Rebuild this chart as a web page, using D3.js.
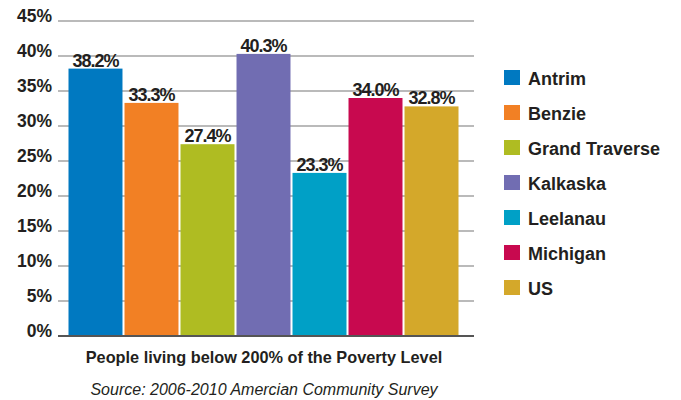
<!DOCTYPE html>
<html>
<head>
<meta charset="utf-8">
<script src="https://cdn.jsdelivr.net/npm/d3@7"></script>
<style>
  body { margin: 0; background: #fff; }
  text { font-family: "Liberation Sans", Arial, sans-serif; fill: #231f20; }
</style>
</head>
<body>
<div id="chart"></div>
<script>
// data
const categories = ["Antrim", "Benzie", "Grand Traverse", "Kalkaska", "Leelanau", "Michigan", "US"];
const values = [38.2, 33.3, 27.4, 40.3, 23.3, 34.0, 32.8];
const colors = ["#0079c1", "#f28024", "#afbc22", "#716db2", "#00a0c6", "#c8094f", "#d4a82a"];
const yTicks = [0, 5, 10, 15, 20, 25, 30, 35, 40, 45];

const svgWidth = 681;
const svgHeight = 400;

let svg = d3.select("#chart")
  .append("svg")
  .attr("width", svgWidth)
  .attr("height", svgHeight);

// scales
var xScale = d3.scaleBand()
  .domain(categories)
  .range([68.5, 458.5])
  .paddingInner(0.036)
  .paddingOuter(0);

var yScale = d3.scaleLinear()
  .domain([0, 45])
  .range([336, 21]);

// gridlines
svg.append("g")
  .selectAll("line")
  .data(yTicks.filter(d => d > 0))
  .enter().append("line")
    .attr("x1", 58)
    .attr("x2", 474)
    .attr("y1", d => yScale(d))
    .attr("y2", d => yScale(d))
    .attr("stroke", "#a3a3a3")
    .attr("stroke-width", 1.5);

// y tick labels
svg.append("g")
  .selectAll("text")
  .data(yTicks)
  .enter().append("text")
    .attr("x", 52)
    .attr("y", d => yScale(d) + 1)
    .attr("text-anchor", "end")
    .style("font-size", "17.5px")
    .style("font-weight", "bold")
    .text(d => d + "%");

// bars
svg.append("g")
  .selectAll("rect")
  .data(values)
  .enter().append("rect")
    .attr("x", (d, i) => xScale(categories[i]))
    .attr("y", d => yScale(d))
    .attr("width", xScale.bandwidth())
    .attr("height", d => yScale(0) - yScale(d))
    .attr("fill", (d, i) => colors[i]);

// baseline
svg.append("line")
  .attr("x1", 58)
  .attr("x2", 474)
  .attr("y1", yScale(0))
  .attr("y2", yScale(0))
  .attr("stroke", "#555")
  .attr("stroke-width", 2);

// value labels
svg.append("g")
  .selectAll("text")
  .data(values)
  .enter().append("text")
    .attr("x", (d, i) => xScale(categories[i]) + xScale.bandwidth() / 2)
    .attr("y", d => yScale(d) - 2)
    .attr("text-anchor", "middle")
    .style("font-size", "18px")
    .style("font-weight", "bold")
    .style("letter-spacing", "-1px")
    .text(d => d.toFixed(1) + "%");

// legend
let legend = svg.append("g")
  .selectAll("g")
  .data(categories)
  .enter().append("g")
    .attr("transform", (d, i) => "translate(504," + (70 + i * 35) + ")");

legend.append("rect")
  .attr("width", 16)
  .attr("height", 15)
  .attr("fill", (d, i) => colors[i]);

legend.append("text")
  .attr("x", 24)
  .attr("y", 15)
  .style("font-size", "18px")
  .style("font-weight", "bold")
  .text(d => d);

// x axis title and source
svg.append("text")
  .attr("x", 264)
  .attr("y", 363)
  .attr("text-anchor", "middle")
  .style("font-size", "16.3px")
  .style("font-weight", "bold")
  .text("People living below 200% of the Poverty Level");

svg.append("text")
  .attr("x", 264)
  .attr("y", 395)
  .attr("text-anchor", "middle")
  .style("font-size", "16px")
  .style("font-style", "italic")
  .text("Source: 2006-2010 Amercian Community Survey");
</script>
</body>
</html>
